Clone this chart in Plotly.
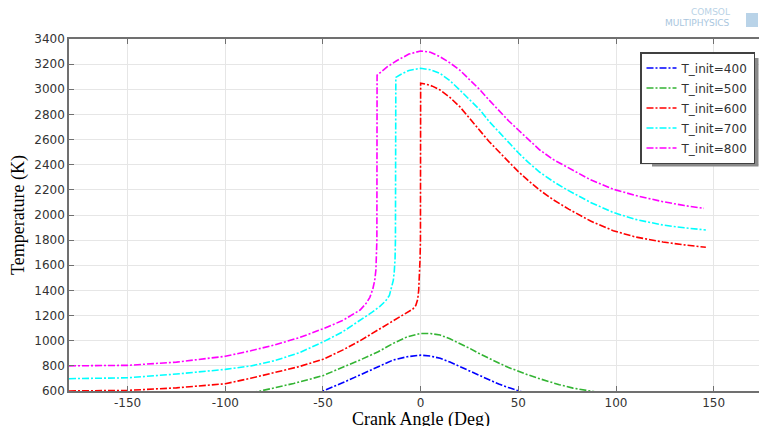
import plotly.graph_objects as go

# ---- data ----
series_names = ["T_init=400", "T_init=500", "T_init=600", "T_init=700", "T_init=800"]
series_colors = ["#0000ff", "#33b433", "#ff0000", "#00ffff", "#ff00ff"]

angle_400 = [-180, -150, -120, -100, -80, -65, -50, -40, -31, -22, -14, -7, 0, 5, 10, 15, 20, 25, 30, 35, 40, 45, 50, 55]
temp_400 = [400, 403, 415, 432, 465, 520, 600, 665, 727, 790, 847, 872, 885, 878, 860, 830, 795, 757, 720, 685, 655, 627, 600, 577]

angle_500 = [-180, -150, -120, -100, -82, -65, -50, -40, -31, -22, -14, -7, 0, 5, 10, 15, 20, 25, 30, 35, 40, 45, 50, 55, 60, 65, 71, 78, 86, 95]
temp_500 = [500, 505, 520, 545, 600, 660, 722, 785, 847, 910, 979, 1030, 1058, 1057, 1045, 1015, 980, 940, 898, 858, 822, 787, 756, 728, 702, 678, 650, 623, 600, 578]

angle_600 = [-180, -160, -150, -125, -100, -87, -75, -62, -50, -40, -31, -22, -14, -10, -6, -4, -2.5, -1.5, -1, -0.6, -0.3, -0.1,
             0, 3, 6, 9.9, 15, 20, 25, 30.4, 35, 40.6, 45, 50, 55, 61, 68, 76, 87, 98.6, 110, 124, 135, 146]
temp_600 = [600, 602, 605, 625, 658, 701, 745, 795, 852, 925, 1000, 1082, 1160, 1195, 1230, 1252, 1280, 1330, 1400, 1500, 1650, 1800,
            3048, 3040, 3025, 2995, 2935, 2862, 2770, 2676, 2585, 2495, 2425, 2345, 2275, 2197, 2120, 2045, 1952, 1875, 1825, 1785, 1762, 1743]

angle_700 = [-180, -150, -125, -100, -87, -75, -62, -50, -40, -31, -25, -21, -18, -16, -14.9, -14, -13.5, -13.1, -12.9,
             -12.7, -10, -6, 0, 5, 9.9, 15, 20, 25, 30.4, 35, 40.6, 45, 50, 55, 61, 68, 75, 87, 98.6, 110, 124, 135, 146]
temp_700 = [698, 705, 735, 772, 799, 840, 905, 990, 1070, 1160, 1225, 1272, 1315, 1360, 1420, 1480, 1550, 1650, 1800,
            3095, 3120, 3150, 3167, 3155, 3127, 3068, 2995, 2918, 2835, 2745, 2650, 2575, 2495, 2420, 2340, 2265, 2200, 2100, 2020, 1965, 1920, 1898, 1881]

angle_800 = [-180, -165, -150, -125, -100, -87, -75, -62, -50, -40, -31, -28, -26, -24.5, -23.5, -22.9, -22.6, -22.4,
             -22.3, -17, -12.3, -6, 0, 5, 9.9, 15, 20, 25, 30.4, 35, 40.6, 45, 50, 55, 61, 68, 76, 87, 98.6, 110, 124, 135, 145]
temp_800 = [800, 801, 804, 830, 876, 920, 965, 1025, 1095, 1160, 1244, 1295, 1345, 1410, 1480, 1563, 1680, 1800,
            3112, 3180, 3227, 3280, 3305, 3295, 3259, 3210, 3153, 3080, 2995, 2915, 2822, 2750, 2676, 2600, 2517, 2440, 2372, 2280, 2205, 2155, 2106, 2075, 2053]

series_x = [angle_400, angle_500, angle_600, angle_700, angle_800]
series_y = [temp_400, temp_500, temp_600, temp_700, temp_800]

x_ticks = [-150, -100, -50, 0, 50, 100, 150]
x_tick_labels = ["-150", "-100", "-50", "0", "50", "100", "150"]
y_ticks = [600, 800, 1000, 1200, 1400, 1600, 1800, 2000, 2200, 2400, 2600, 2800, 3000, 3200, 3400]
x_title = "Crank Angle (Deg)"
y_title = "Temperature (K)"

# ---- figure ----
W, H = 759, 426
L, T, B, R = 69, 39, 35, 0
pw, ph = W - L - R, H - T - B

def px2paper_x(p):
    return (p - L) / pw

def px2paper_y(p):
    return (H - B - p) / ph

fig = go.Figure()
for name, color, xs, ys in zip(series_names, series_colors, series_x, series_y):
    fig.add_trace(go.Scatter(
        x=xs, y=ys, mode="lines", name=name, legendgroup=name,
        line=dict(color=color, width=1.6, dash="7px,2px,2px,2px"),
    ))

axis_col = "#707070"
tick_font = dict(family="DejaVu Sans", size=12, color="#333333")
title_font = dict(family="Liberation Serif", size=18, color="#000000")

fig.update_layout(
    width=W, height=H,
    margin=dict(l=L, r=R, t=T, b=B, autoexpand=False),
    paper_bgcolor="white", plot_bgcolor="white",
    showlegend=True,
    legend=dict(
        x=px2paper_x(755), xanchor="right",
        y=px2paper_y(52), yanchor="top",
        bgcolor="white", bordercolor="#404040", borderwidth=1.5,
        font=dict(family="DejaVu Sans", size=12, color="#333333"),
        itemwidth=30, tracegroupgap=1,
    ),
    xaxis=dict(
        range=[-180, 173.2], tickvals=x_ticks, ticktext=x_tick_labels,
        showgrid=True, gridcolor="#e6e6e6", gridwidth=1,
        showline=True, linecolor=axis_col, linewidth=1.5,
        mirror="ticks", ticks="inside", ticklen=5, tickcolor=axis_col, tickwidth=1,
        tickfont=tick_font, zeroline=False,
    ),
    yaxis=dict(
        range=[600, 3400], tickvals=y_ticks,
        showgrid=True, gridcolor="#e6e6e6", gridwidth=1,
        showline=True, linecolor=axis_col, linewidth=1.5,
        ticks="inside", ticklen=5, tickcolor=axis_col, tickwidth=1,
        tickfont=tick_font, zeroline=False,
        title=dict(text=y_title, font=title_font, standoff=5),
    ),
    shapes=[
        # legend drop shadow
        dict(type="rect", xref="paper", yref="paper",
             x0=px2paper_x(652), x1=px2paper_x(758.5),
             y0=px2paper_y(166.5), y1=px2paper_y(58),
             fillcolor="#8a8a8a", line=dict(width=0), layer="above"),
        # faint logo mark
        dict(type="rect", xref="paper", yref="paper",
             x0=px2paper_x(746), x1=px2paper_x(758),
             y0=px2paper_y(27), y1=px2paper_y(13),
             fillcolor="#a8c8e2", line=dict(width=0), opacity=0.8),
    ],
    annotations=[
        dict(text=x_title, xref="paper", yref="paper",
             x=px2paper_x(421), y=px2paper_y(407), xanchor="center", yanchor="top",
             showarrow=False, font=title_font),
        dict(text="COMSOL", xref="paper", yref="paper",
             x=px2paper_x(710), y=px2paper_y(12), xanchor="center", yanchor="middle",
             showarrow=False, font=dict(family="DejaVu Sans", size=9, color="#b9d2e6")),
        dict(text="MULTIPHYSICS", xref="paper", yref="paper",
             x=px2paper_x(697), y=px2paper_y(22.5), xanchor="center", yanchor="middle",
             showarrow=False, font=dict(family="DejaVu Sans", size=9, color="#a9c6de")),
    ],
)

fig.write_html(
    "out.html",
    config={"displayModeBar": False},
    post_script="document.body.style.margin='0';document.body.style.overflow='hidden';",
)
